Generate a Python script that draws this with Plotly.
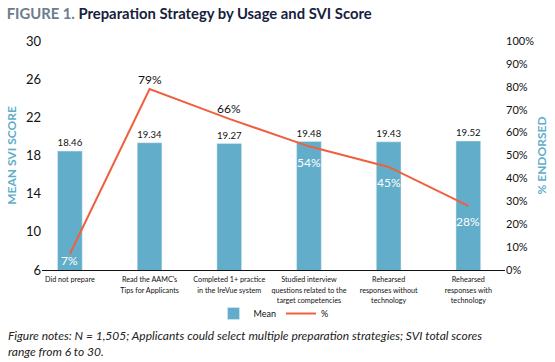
import plotly.graph_objects as go

categories = ["Did not prepare",
              "Read the AAMC's<br>Tips for Applicants",
              "Completed 1+ practice<br>in the IreVue system",
              "Studied interview<br>questions related to the<br>target competencies",
              "Rehearsed<br>responses without<br>technology",
              "Rehearsed<br>responses with<br>technology"]
mean_scores = [18.46, 19.34, 19.27, 19.48, 19.43, 19.52]
pct_endorsed = [7, 79, 66, 54, 45, 28]
left_ticks = [6, 10, 14, 18, 22, 26, 30]
right_ticks = [0, 10, 20, 30, 40, 50, 60, 70, 80, 90, 100]

BLUE = "#62adc9"
RED = "#f0603f"
FONT = "Lato, Roboto, sans-serif"

xs = list(range(len(categories)))

fig = go.Figure()
fig.add_trace(go.Bar(
    x=xs, y=mean_scores, name="Mean", marker_color=BLUE, width=0.31,
    text=[f"{v:.2f}" for v in mean_scores], textposition="outside",
    textfont=dict(size=11, color="#111", family=FONT), cliponaxis=False,
))
fig.add_trace(go.Scatter(
    x=xs, y=pct_endorsed, name="%", yaxis="y2", mode="lines",
    line=dict(color=RED, width=2),
))
# percentage labels
for i, v in enumerate(pct_endorsed):
    inside = (i == 0 or i >= 3)
    fig.add_annotation(
        x=i, y=v, yref="y2", text=f"{v}%", showarrow=False,
        yshift=(-16 if inside else 10) if i != 0 else -7,
        font=dict(size=12, color="white" if inside else "#111", family=FONT),
    )

fig.update_layout(
    width=555, height=362,
    margin=dict(l=42, r=50, t=41, b=92, autoexpand=False),
    paper_bgcolor="white", plot_bgcolor="white",
    font=dict(family=FONT, color="#111"),
    showlegend=True,
    legend=dict(orientation="h", x=0.5, xanchor="center", y=-0.19, yanchor="middle",
                bgcolor="rgba(0,0,0,0)",
                font=dict(size=9, family=FONT), itemwidth=30),
    xaxis=dict(tickmode="array", tickvals=xs, ticktext=categories, tickangle=0,
               automargin=False,
               range=[-0.35, 5.46], showgrid=False, zeroline=False,
               showline=True, linecolor="#111", linewidth=1.2, ticks="",
               tickfont=dict(size=9.5, family=FONT, color="#111")),
    yaxis=dict(range=[6, 30], tickvals=left_ticks, showgrid=False, zeroline=False,
               automargin=False,
               tickfont=dict(size=13, color="#111"), ticklen=0,
               title=dict(text="<b>MEAN SVI SCORE</b>", font=dict(size=12, color=BLUE), standoff=6)),
    yaxis2=dict(range=[0, 100], tickvals=right_ticks, ticktext=[f"{t}%" for t in right_ticks],
                overlaying="y", side="right", showgrid=False, zeroline=False,
                automargin=False,
                tickfont=dict(size=11, color="#111", family=FONT),
                title=dict(text="<b>% ENDORSED</b>", font=dict(size=12, color=BLUE), standoff=4)),
    title=dict(text="<span style='color:#6b7c8c'>FIGURE 1.</span> Preparation Strategy by Usage and SVI Score",
               x=0.012, xanchor="left", y=0.962, yanchor="middle",
               font=dict(size=14.8, color="#17213d", family="Lato, sans-serif", weight="bold")),
)
fig.add_annotation(
    text="<i>Figure notes: N = 1,505; Applicants could select multiple preparation strategies; SVI total scores<br>range from 6 to 30.</i>",
    xref="paper", yref="paper", x=-0.078, y=-0.245, xanchor="left", yanchor="top",
    align="left", showarrow=False, font=dict(size=12, color="#222", family=FONT),
)

post = """
document.body.style.margin = '0';
var gd = document.getElementById('{plot_id}');
gd.querySelectorAll('g.xtick text').forEach(function(t){
  var cx = parseFloat(t.getAttribute('x')) || 0;
  var cy = parseFloat(t.getAttribute('y')) || 0;
  var tr = t.getAttribute('transform') || '';
  t.setAttribute('transform', tr + ' translate(' + cx + ',' + cy + ') scale(0.76,0.85) translate(' + (-cx) + ',' + (-cy) + ')');
});
"""
fig.write_html("out.html", post_script=post, config={"displayModeBar": False})
